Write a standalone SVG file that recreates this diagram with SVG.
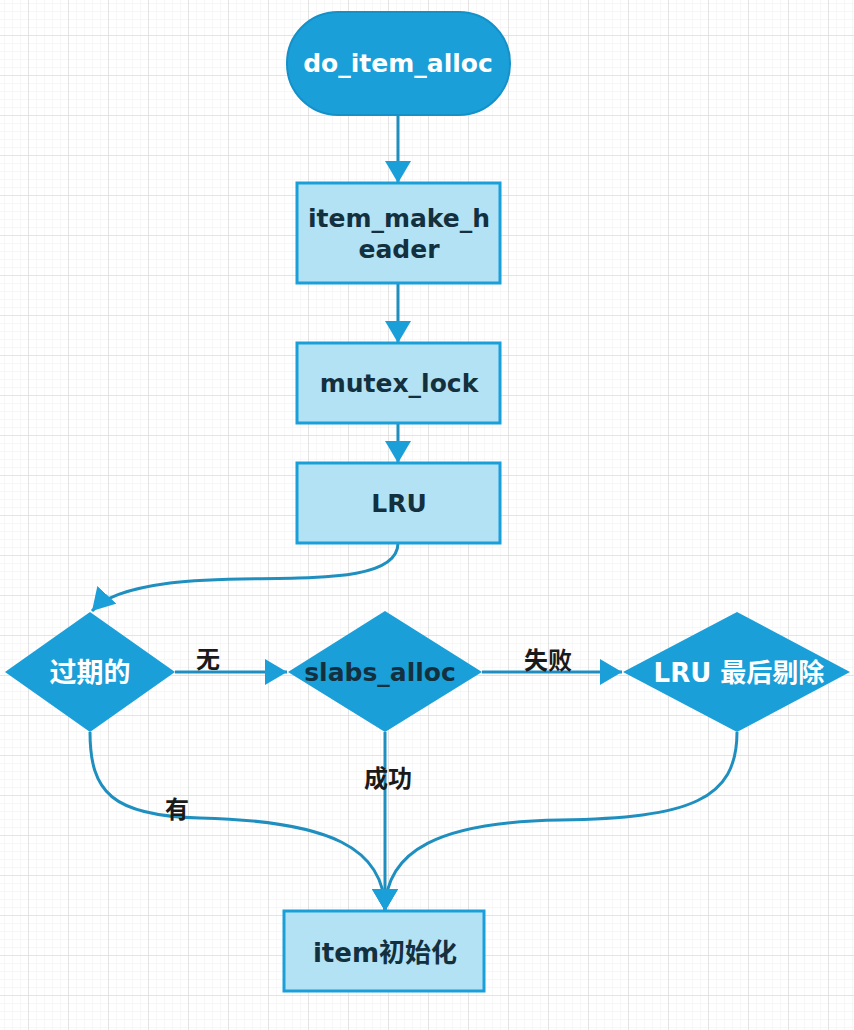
<svg xmlns="http://www.w3.org/2000/svg" width="854" height="1030" viewBox="0 0 854 1030">
<defs>
<pattern id="minor" patternUnits="userSpaceOnUse" x="4" y="3" width="8" height="8">
<path d="M0,0 H8 M0,0 V8" fill="none" stroke="#efefef" stroke-width="1"/>
</pattern>
<pattern id="major" patternUnits="userSpaceOnUse" x="28" y="35" width="40" height="40">
<path d="M0,0 H40 M0,0 V40" fill="none" stroke="#dedede" stroke-width="1.5"/>
</pattern>
<marker id="arr" markerUnits="userSpaceOnUse" markerWidth="26" markerHeight="26" refX="22" refY="13" orient="auto">
<path d="M0,0 L22,13 L0,26 Z" fill="#1a9fd9"/>
</marker>
<style>
.box{fill:#b3e2f5;stroke:#1a9fd9;stroke-width:3}
.dia{fill:#1a9fd9;stroke:none}
.term{fill:#1a9fd9;stroke:#1590c8;stroke-width:2}
.conn{fill:none;stroke:#1f8fc0;stroke-width:3}
.t{font-family:"DejaVu Sans","Noto Sans CJK SC",sans-serif;font-weight:bold;text-anchor:middle}
.dk{fill:#13303f}
.wh{fill:#ffffff}
.lbl{font-family:"Noto Sans CJK SC",sans-serif;font-weight:bold;font-size:24px;fill:#1a1a1a;text-anchor:middle}
</style>
</defs>
<rect width="854" height="1030" fill="#ffffff"/>
<rect width="854" height="1030" fill="url(#minor)"/>
<rect width="854" height="1030" fill="url(#major)"/>

<g id="connectors">
<path class="conn" d="M398,115 L398,183" marker-end="url(#arr)"/>
<path class="conn" d="M398,283 L398,343" marker-end="url(#arr)"/>
<path class="conn" d="M398,423 L398,463" marker-end="url(#arr)"/>
<path class="conn" d="M398,543 C398,592 260,572 170,583 C125,589 104,598 92,611" marker-end="url(#arr)"/>
<path class="conn" d="M175,672 L287,672" marker-end="url(#arr)"/>
<path class="conn" d="M482,672 L622,672" marker-end="url(#arr)"/>
<path class="conn" d="M385,732 L385,911" marker-end="url(#arr)"/>
<path class="conn" d="M90,732 C90,792 112,816 200,818 C330,821 385,848 385,911" marker-end="url(#arr)"/>
<path class="conn" d="M737,732 C737,800 690,818 560,820 C440,822 385,850 385,911" marker-end="url(#arr)"/>
<text class="lbl" x="208" y="668">无</text>
<text class="lbl" x="548" y="669">失败</text>
<text class="lbl" x="388" y="787">成功</text>
<text class="lbl" x="177" y="818">有</text>
</g>

<g id="n_do_item_alloc">
<rect class="term" x="287" y="12" width="223" height="103" rx="51" ry="51"/>
<text class="t wh" x="398" y="72" font-size="25">do_item_alloc</text>
</g>
<g id="n_item_make_header">
<rect class="box" x="297" y="183" width="203" height="100"/>
<text class="t dk" x="399" y="227" font-size="25">item_make_h</text>
<text class="t dk" x="399" y="258" font-size="25">eader</text>
</g>
<g id="n_mutex_lock">
<rect class="box" x="297" y="343" width="203" height="80"/>
<text class="t dk" x="399" y="392" font-size="25">mutex_lock</text>
</g>
<g id="n_lru">
<rect class="box" x="297" y="463" width="203" height="80"/>
<text class="t dk" x="399" y="512" font-size="25">LRU</text>
</g>
<g id="n_expired">
<polygon class="dia" points="90,612 175,672 90,732 5,672"/>
<text class="t wh" x="90" y="682" font-size="27">过期的</text>
</g>
<g id="n_slabs_alloc">
<polygon class="dia" points="385,611 482,672 385,732 288,672"/>
<text class="t dk" x="380" y="681" font-size="25">slabs_alloc</text>
</g>
<g id="n_lru_evict">
<polygon class="dia" points="737,612 850,672 737,732 623,672"/>
<text class="t wh" x="739" y="682" font-size="26">LRU 最后剔除</text>
</g>
<g id="n_item_init">
<rect class="box" x="284" y="911" width="200" height="80"/>
<text class="t dk" x="385" y="962" font-size="26">item初始化</text>
</g>
</svg>
